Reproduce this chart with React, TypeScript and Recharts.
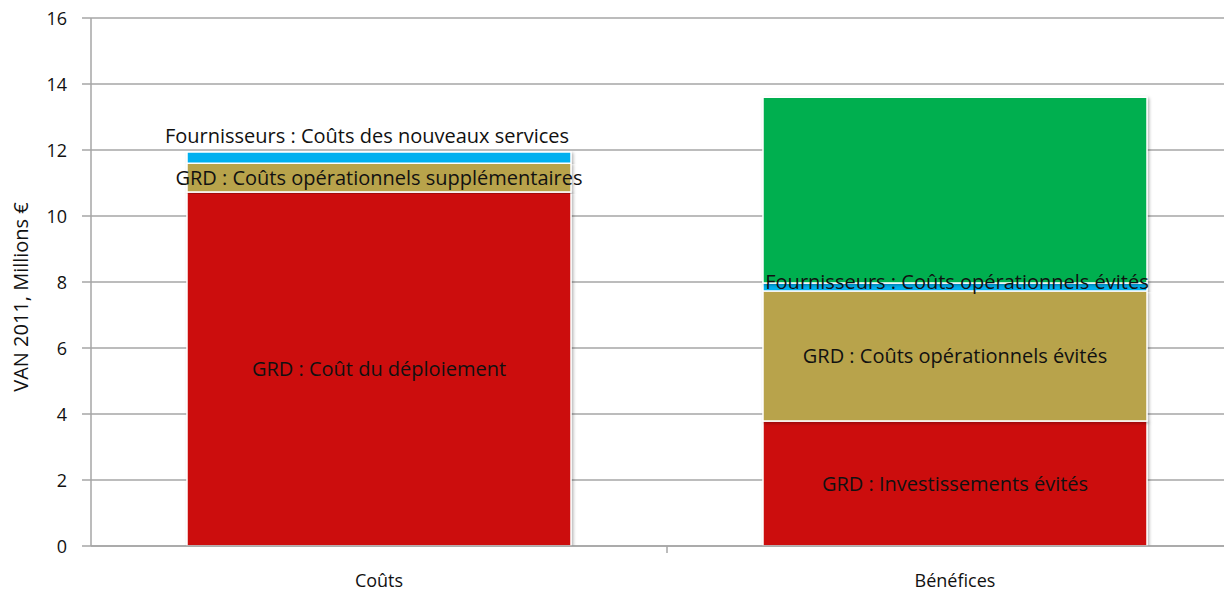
import React from 'react';
import { BarChart, Bar, XAxis, YAxis, CartesianGrid, LabelList } from 'recharts';

const categories = ['Coûts', 'Bénéfices'];
const grdPrincipal = [10.73, 3.79];
const grdOperationnel = [0.87, 3.94];
const fournisseurs = [0.34, 0.24];
const clients = [0, 5.63];

const grdPrincipalLabels = ['GRD : Coût du déploiement', 'GRD : Investissements évités'];
const grdOperationnelLabels = ['GRD : Coûts opérationnels supplémentaires', 'GRD : Coûts opérationnels évités'];
const fournisseursLabels = ['Fournisseurs : Coûts des nouveaux services', 'Fournisseurs : Coûts opérationnels évités'];
const clientsLabels = ['', 'Clients : Diminution de la consommation'];

const yTicks = [0, 2, 4, 6, 8, 10, 12, 14, 16];
const yLabel = 'VAN 2011, Millions €';

const data = categories.map((name, i) => ({
  name,
  grdPrincipal: grdPrincipal[i],
  grdOperationnel: grdOperationnel[i],
  fournisseurs: fournisseurs[i],
  clients: clients[i],
}));

const COLORS = {
  red: '#CC1008',
  olive: '#B8A34C',
  blue: '#00B0F0',
  green: '#00AF50',
};
const GRID = '#a6a6a6';
const FONT = "'Open Sans', sans-serif";
const LABEL_SIZE = 20;

const makeLabel = (labels: string[], dyByIndex: number[] = [], dxByIndex: number[] = []) => (props: any) => {
  const { x, y, width, height, index, value } = props;
  if (!value || !labels[index]) return null;
  const cx = Number(x) + Number(width) / 2 + (dxByIndex[index] || 0);
  const cy = Number(y) + Number(height) / 2 + (dyByIndex[index] || 0);
  return (
    <text
      x={cx}
      y={cy}
      textAnchor="middle"
      dominantBaseline="central"
      fill="#111"
      fontSize={LABEL_SIZE}
      fontFamily={FONT}
    >
      {labels[index]}
    </text>
  );
};

const XTick = (props: any) => {
  const { x, y, payload, index, width, visibleTicksCount } = props;
  const w = Number(width) || 1152;
  const n = Number(visibleTicksCount) || 2;
  const half = w / (2 * n);
  return (
    <g>
      <text
        x={x}
        y={Number(y) + 34}
        textAnchor="middle"
        dominantBaseline="central"
        fill="#111"
        fontSize={18}
        fontFamily={FONT}
      >
        {payload.value}
      </text>
      {index < n - 1 ? (
        <line x1={Number(x) + half} y1={y} x2={Number(x) + half} y2={Number(y) + 7} stroke={GRID} strokeWidth={1.5} />
      ) : null}
    </g>
  );
};

const YTick = (props: any) => {
  const { y, payload } = props;
  return (
    <text
      x={67}
      y={y}
      textAnchor="end"
      dominantBaseline="central"
      fill="#111"
      fontSize={18}
      fontFamily={FONT}
    >
      {payload.value}
    </text>
  );
};

const YLabel = (props: any) => {
  const vb = props.viewBox || {};
  const cy = Number(vb.y) + Number(vb.height) / 2 + 15;
  return (
    <text
      x={20}
      y={cy}
      transform={`rotate(-90, 20, ${cy})`}
      textAnchor="middle"
      dominantBaseline="central"
      fill="#111"
      fontSize={20}
      fontFamily={FONT}
    >
      {yLabel}
    </text>
  );
};

export default function App() {
  return (
    <div
      style={{
        position: 'fixed',
        left: 0,
        top: 0,
        width: 1224,
        height: 592,
        overflow: 'hidden',
        background: '#fff',
        fontFamily: FONT,
      }}
    >
      <BarChart
        width={1260}
        height={592}
        data={data}
        margin={{ top: 18, right: 17, left: 0, bottom: 0 }}
        barSize={384}
      >
        <defs>
          <filter id="barShadow" x="-5%" y="-5%" width="110%" height="110%">
            <feDropShadow dx="1.5" dy="1.5" stdDeviation="1.8" floodColor="#000" floodOpacity="0.3" />
          </filter>
        </defs>
        <CartesianGrid vertical={false} stroke={GRID} strokeWidth={1.5} />
        <XAxis
          dataKey="name"
          height={46}
          tickLine={false}
          tickSize={0}
          tickMargin={0}
          axisLine={{ stroke: GRID, strokeWidth: 1.5 }}
          tick={<XTick />}
          interval={0}
        />
        <YAxis
          width={91}
          domain={[0, 16]}
          ticks={yTicks}
          tickSize={9}
          tickMargin={14}
          axisLine={{ stroke: GRID, strokeWidth: 1.5 }}
          tickLine={{ stroke: GRID, strokeWidth: 1.5 }}
          tick={<YTick />}
          label={<YLabel />}
          allowDataOverflow
        />
        <Bar dataKey="grdPrincipal" stackId="a" fill={COLORS.red} stroke="#fff" strokeWidth={1.5} filter="url(#barShadow)" isAnimationActive={false}>
          <LabelList dataKey="grdPrincipal" content={makeLabel(grdPrincipalLabels)} />
        </Bar>
        <Bar dataKey="grdOperationnel" stackId="a" fill={COLORS.olive} stroke="#fff" strokeWidth={1.5} filter="url(#barShadow)" isAnimationActive={false}>
          <LabelList dataKey="grdOperationnel" content={makeLabel(grdOperationnelLabels)} />
        </Bar>
        <Bar dataKey="fournisseurs" stackId="a" fill={COLORS.blue} stroke="#fff" strokeWidth={1.5} filter="url(#barShadow)" isAnimationActive={false}>
          <LabelList dataKey="fournisseurs" content={makeLabel(fournisseursLabels, [-22, -5], [-12, 2])} />
        </Bar>
        <Bar dataKey="clients" stackId="a" fill={COLORS.green} stroke="#fff" strokeWidth={1.5} filter="url(#barShadow)" isAnimationActive={false}>
          <LabelList dataKey="clients" content={makeLabel(clientsLabels)} />
        </Bar>
      </BarChart>
    </div>
  );
}
